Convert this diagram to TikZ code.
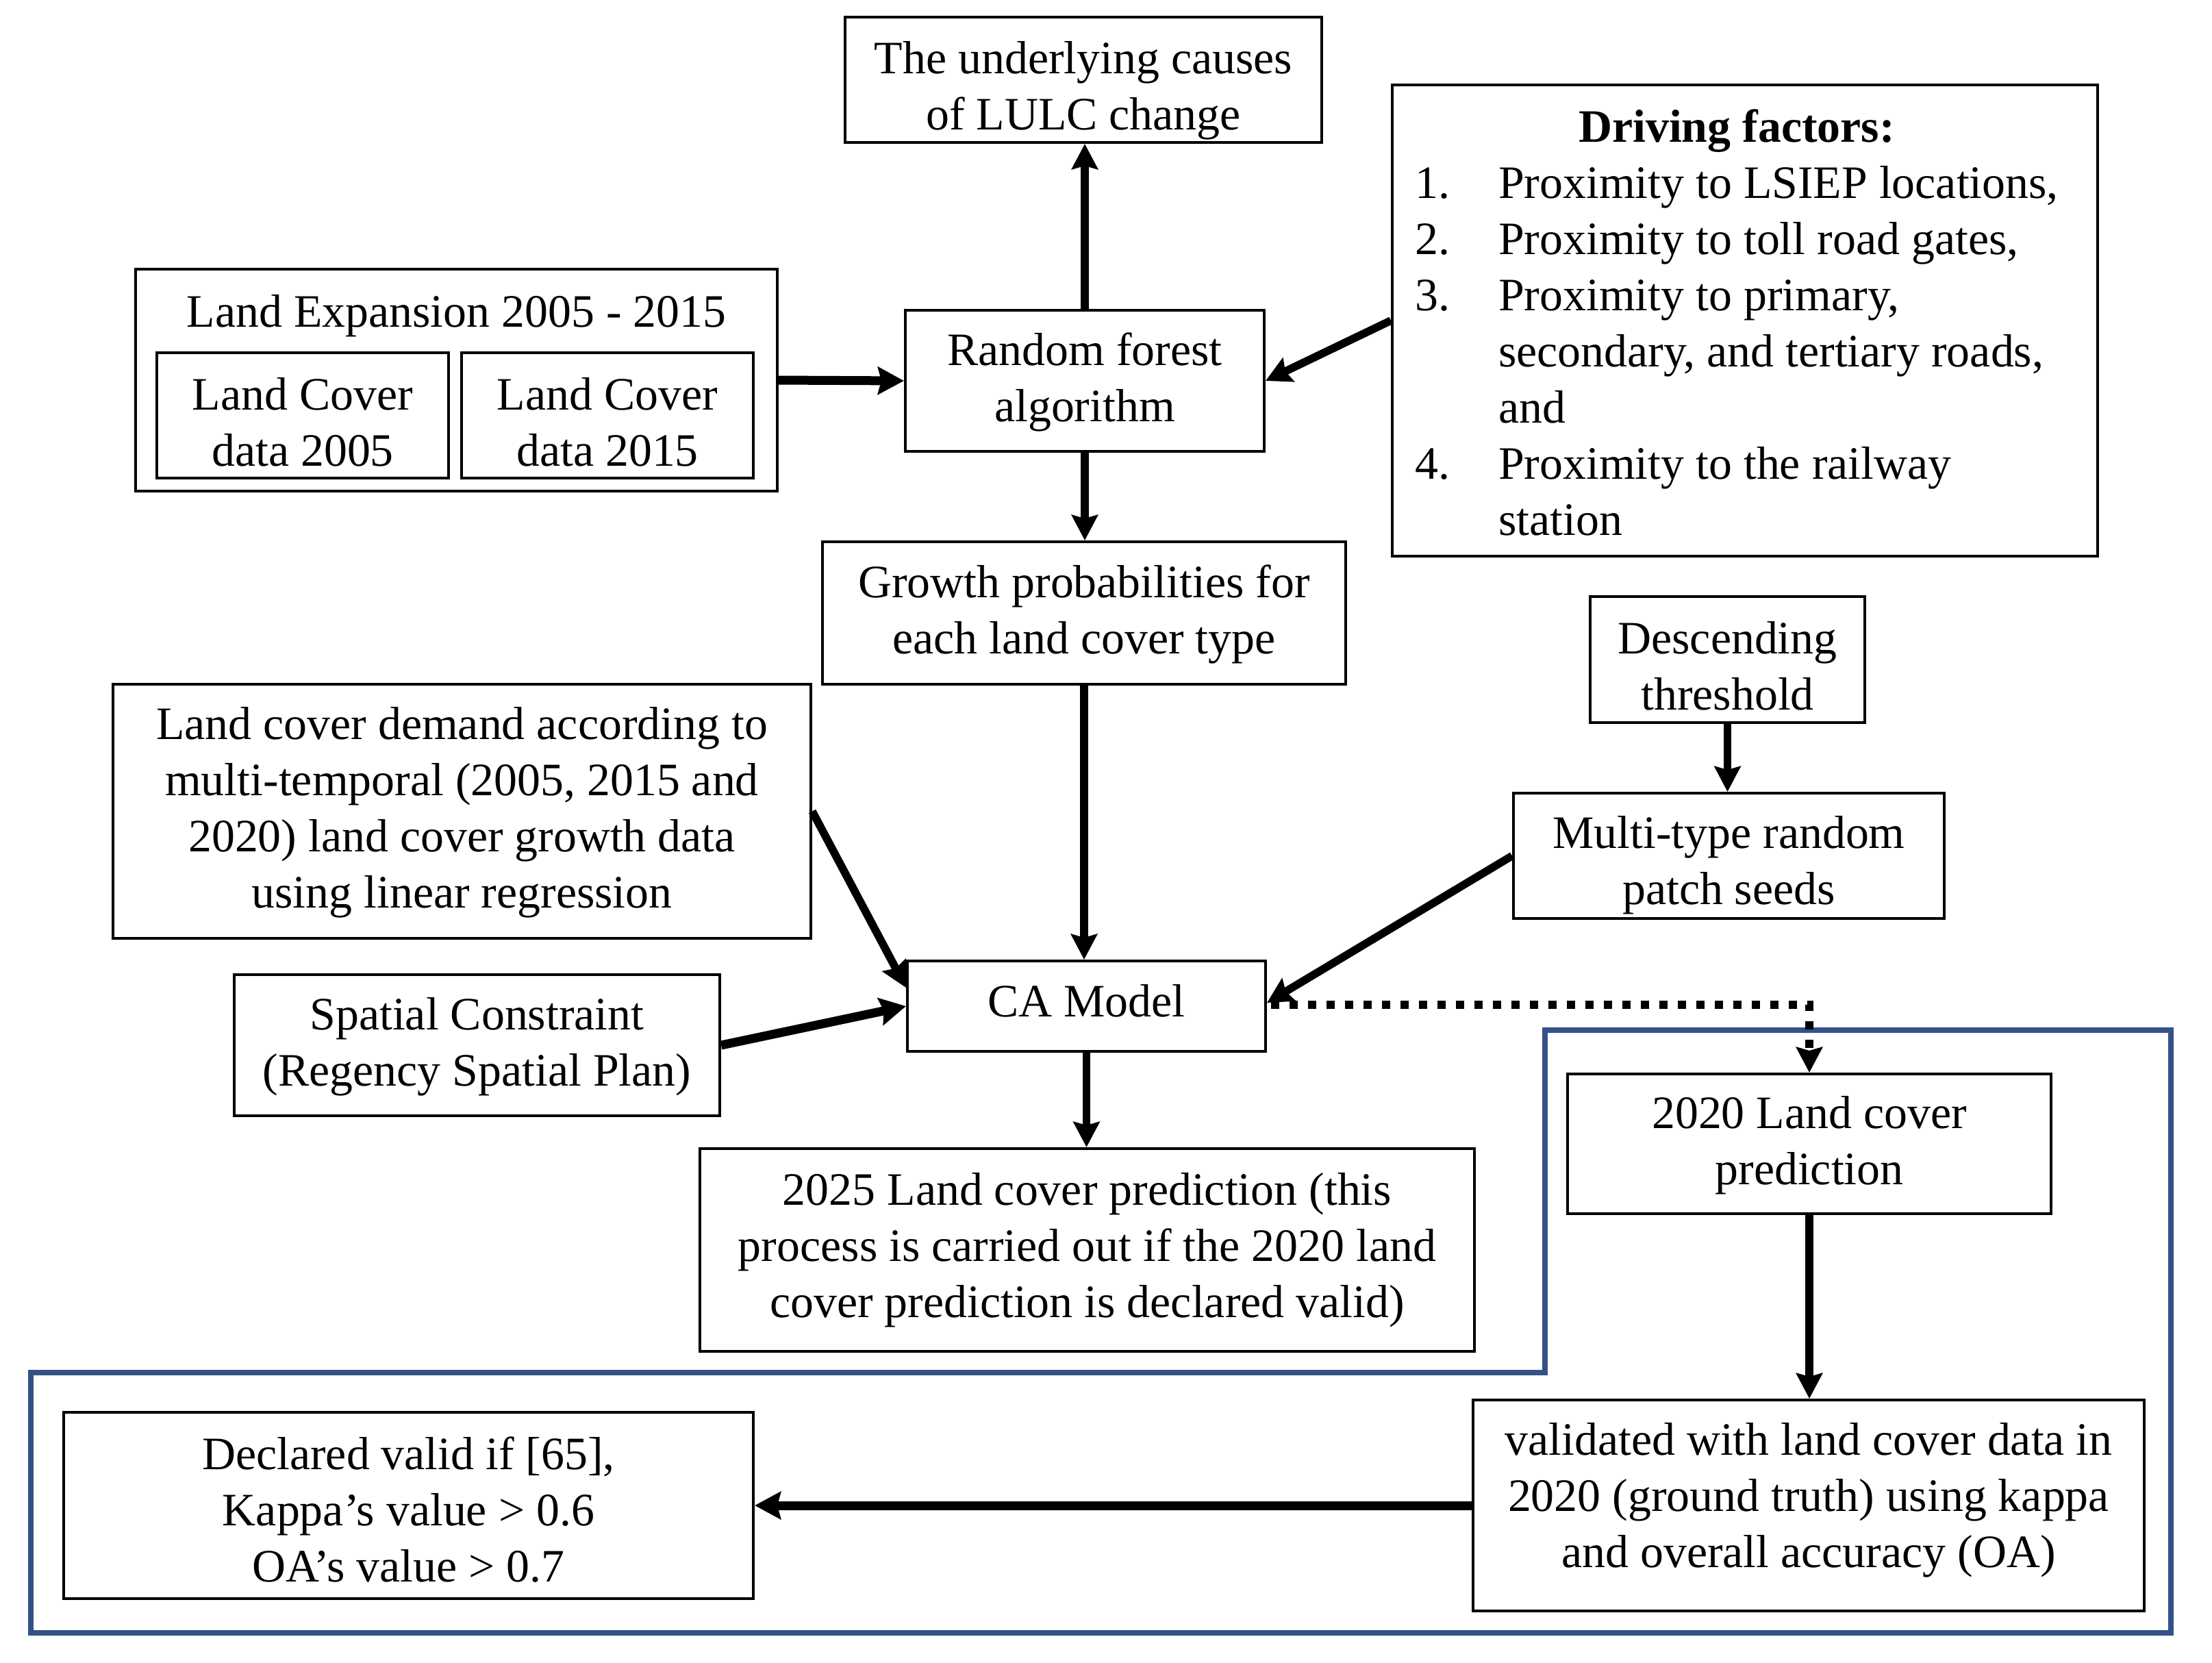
\documentclass[tikz,border=0pt]{standalone}
\usepackage{fontspec}
\setmainfont{Liberation Serif}
\usetikzlibrary{arrows.meta,positioning}
\definecolor{frameblue}{RGB}{50,82,135}
\tikzset{
  box/.style={draw, line width=1.15pt, inner sep=0pt},
  lbl/.style={align=center, inner sep=0pt, font=\fontsize{19.3pt}{23.3pt}\selectfont},
  arr/.style={-{Stealth[length=0.37cm,width=0.38cm,inset=0.05cm]}, line width=3.3pt},
  arrthick/.style={-{Stealth[length=0.38cm,width=0.40cm,inset=0.05cm]}, line width=3.7pt},
  dotarr/.style={-{Stealth[length=0.37cm,width=0.38cm,inset=0.05cm]}, line width=0.12cm, dash pattern=on 0.12cm off 0.15cm}
}
\begin{document}
\begin{tikzpicture}
\path[use as bounding box, fill=white] (0,0) rectangle (32.30,-24.27);

% blue frame
\draw[frameblue, line width=0.085cm, line join=miter]
  (22.56,-15.04) -- (31.70,-15.04) -- (31.70,-23.84) -- (0.45,-23.84) -- (0.45,-20.04) -- (22.56,-20.04) -- cycle;

% boxes and their texts
\node[box, minimum width=6.96cm, minimum height=1.83cm] (uc) at (15.82,-1.165) {};
\node[lbl] (uct) at ([yshift=-0.16cm]uc.center) {The underlying causes\\of LULC change};

\node[box, minimum width=10.30cm, minimum height=6.88cm] (df) at (25.48,-4.68) {};
\node[lbl] (dft) at ([xshift=-0.12cm,yshift=-0.10cm]df.center) {%
\begin{tabular}{@{}l@{}}
\multicolumn{1}{c}{\textbf{Driving factors:}}\\
\makebox[1.22cm][l]{1.}Proximity to LSIEP locations,\\
\makebox[1.22cm][l]{2.}Proximity to toll road gates,\\
\makebox[1.22cm][l]{3.}Proximity to primary,\\
\hspace*{1.22cm}secondary, and tertiary roads,\\
\hspace*{1.22cm}and\\
\makebox[1.22cm][l]{4.}Proximity to the railway\\
\hspace*{1.22cm}station
\end{tabular}};

\node[box, minimum width=9.37cm, minimum height=3.24cm] (le) at (6.665,-5.55) {};
\node[lbl] (let) at (6.665,-4.61) {Land Expansion 2005 - 2015};
\node[box, minimum width=4.26cm, minimum height=1.83cm] (lc05) at (4.42,-6.065) {};
\node[lbl] (lc05t) at ([yshift=-0.10cm]lc05.center) {Land Cover\\data 2005};
\node[box, minimum width=4.26cm, minimum height=1.83cm] (lc15) at (8.87,-6.065) {};
\node[lbl] (lc15t) at ([yshift=-0.10cm]lc15.center) {Land Cover\\data 2015};

\node[box, minimum width=5.24cm, minimum height=2.06cm] (rf) at (15.84,-5.56) {};
\node[lbl] (rft) at ([yshift=-0.02cm]rf.center) {Random forest\\algorithm};

\node[box, minimum width=7.64cm, minimum height=2.08cm] (gp) at (15.83,-8.95) {};
\node[lbl] (gpt) at ([yshift=-0.02cm]gp.center) {Growth probabilities for\\each land cover type};

\node[box, minimum width=4.01cm, minimum height=1.84cm] (dt) at (25.225,-9.63) {};
\node[lbl] (dtt) at ([yshift=-0.09cm]dt.center) {Descending\\threshold};

\node[box, minimum width=6.29cm, minimum height=1.83cm] (mt) at (25.245,-12.495) {};
\node[lbl] (mtt) at ([yshift=-0.14cm]mt.center) {Multi-type random\\patch seeds};

\node[box, minimum width=10.19cm, minimum height=3.71cm] (lcd) at (6.745,-11.845) {};
\node[lbl] (lcdt) at ([yshift=-0.02cm]lcd.center) {Land cover demand according to\\multi-temporal (2005, 2015 and\\2020) land cover growth data\\using linear regression};

\node[box, minimum width=7.09cm, minimum height=2.06cm] (sc) at (6.965,-15.26) {};
\node[lbl] (sct) at ([yshift=-0.02cm]sc.center) {Spatial Constraint\\(Regency Spatial Plan)};

\node[box, minimum width=5.23cm, minimum height=1.32cm] (ca) at (15.865,-14.69) {};
\node[lbl] (cat) at ([yshift=0.08cm]ca.center) {CA Model};

\node[box, minimum width=11.31cm, minimum height=2.96cm] (p25) at (15.875,-18.25) {};
\node[lbl] (p25t) at (p25.center) {2025 Land cover prediction (this\\process is carried out if the 2020 land\\cover prediction is declared valid)};

\node[box, minimum width=7.06cm, minimum height=2.04cm] (p20) at (26.42,-16.70) {};
\node[lbl] (p20t) at ([yshift=-0.02cm]p20.center) {2020 Land cover\\prediction};

\node[box, minimum width=9.80cm, minimum height=3.08cm] (val) at (26.41,-21.98) {};
\node[lbl] (valt) at ([yshift=0.08cm]val.center) {validated with land cover data in\\2020 (ground truth) using kappa\\and overall accuracy (OA)};

\node[box, minimum width=10.07cm, minimum height=2.72cm] (dv) at (5.965,-21.98) {};
\node[lbl] (dvt) at ([yshift=-0.06cm]dv.center) {Declared valid if [65],\\Kappa’s value > 0.6\\OA’s value > 0.7};

% connectors
\draw[arr] (rf.north) -- (rf.north |- uc.south);
\draw[arrthick] (le.east) -- (rf.west);
\draw[arr] (df.west) -- (rf.east);
\draw[arr] (rf.south) -- (rf.south |- gp.north);
\draw[arr] (gp.south) -- (gp.south |- ca.north);
\draw[arr] (lcd.east) -- ([yshift=0.27cm]ca.west);
\draw[arrthick] (sc.east) -- (ca.west);
\draw[arr] (mt.west) -- ([yshift=0.05cm]ca.east);
\draw[arr] (dt.south) -- (dt.south |- mt.north);
\draw[dotarr] ([xshift=0.06cm,yshift=0.02cm]ca.east) -| (p20.north);
\draw[arr] (ca.south) -- (ca.south |- p25.north);
\draw[arr] (p20.south) -- (p20.south |- val.north);
\draw[arrthick] (val.west) -- (dv.east);
\end{tikzpicture}
\end{document}
